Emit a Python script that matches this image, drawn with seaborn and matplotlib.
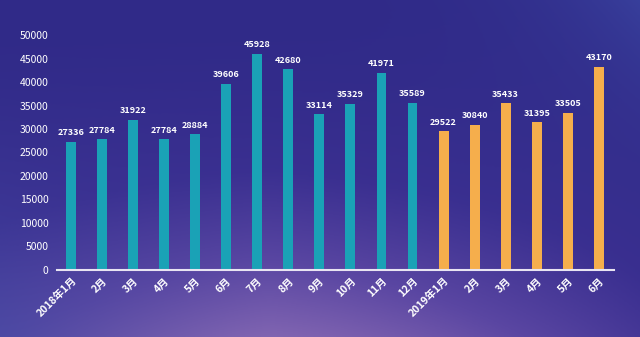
import numpy as np
import pandas as pd
import matplotlib
matplotlib.use("Agg")
import matplotlib.pyplot as plt
import seaborn as sns
from matplotlib.colors import LinearSegmentedColormap

months = ["2018年1月", "2月", "3月", "4月", "5月", "6月", "7月", "8月", "9月",
          "10月", "11月", "12月", "2019年1月", "2月", "3月", "4月", "5月", "6月"]
values = [27336, 27784, 31922, 27784, 28884, 39606, 45928, 42680, 33114,
          35329, 41971, 35589, 29522, 30840, 35433, 31395, 33505, 43170]
years = ["2018"] * 12 + ["2019"] * 6
yticks = list(range(0, 50001, 5000))

sns.set_theme(style="white")
plt.rcParams['font.family'] = ['Noto Sans CJK SC', 'DejaVu Sans']

fig = plt.figure(figsize=(6.4, 3.37), dpi=100)

# background gradient
bg = fig.add_axes([0, 0, 1, 1], zorder=0)
h, w = 200, 400
yy, xx = np.mgrid[0:1:h*1j, 0:1:w*1j]
t = np.clip(yy ** 1.6 * (1 - 1.1 * np.abs(xx - 0.42) ** 1.3), 0, 1)
cmap = LinearSegmentedColormap.from_list("bg", ["#302a88", "#3a2f90", "#5a46a2", "#8466b2"])
img = cmap(t)
# bluish tint at left-bottom and top-right corners
blue = np.array([0.27, 0.30, 0.65, 1.0])
wl = np.clip((1 - xx) ** 4 * yy ** 2 * 0.6, 0, 1)[..., None]
wr = np.clip(xx ** 6 * (1 - yy) ** 3 * 0.6, 0, 1)[..., None]
img = img * (1 - wl) + blue * wl
img = img * (1 - wr) + np.array([0.24, 0.30, 0.66, 1.0]) * wr
bg.imshow(img, aspect="auto", extent=[0, 1, 0, 1], origin="upper")
bg.axis("off")

ax = fig.add_axes([0.089, 0.199, 0.870, 0.697], zorder=1)
ax.patch.set_alpha(0)

df = pd.DataFrame({"x": np.arange(len(months)), "value": values, "year": years})
palette = {"2018": "#1aa2b6", "2019": "#f5ae4c"}
sns.barplot(data=df, x="x", y="value", hue="year", palette=palette, dodge=False,
            width=0.32, legend=False, ax=ax, saturation=1, linewidth=0)

for i, v in enumerate(values):
    ax.text(i, v + 1000, str(v), ha="center", va="bottom", color="white",
            fontsize=6.5, fontweight="bold")

ax.set_xlim(-0.45, len(months) - 0.52)
ax.set_ylim(0, 50000)
ax.set_yticks(yticks)
ax.set_yticklabels([str(v) for v in yticks], color="white", fontsize=7.5)
ax.set_xticks(range(len(months)))
ax.set_xticklabels(months, rotation=45, ha="right", rotation_mode="anchor",
                   color="white", fontsize=7.5, fontweight="bold")
ax.set_xlabel("")
ax.set_ylabel("")
for s in ["top", "right", "left"]:
    ax.spines[s].set_visible(False)
ax.spines["bottom"].set_color("#e8e4f2")
ax.spines["bottom"].set_linewidth(1.5)
ax.tick_params(axis="x", length=0, pad=4)
ax.tick_params(axis="y", length=0, pad=6)
ax.grid(False)

fig.savefig("out.png", dpi=100)
